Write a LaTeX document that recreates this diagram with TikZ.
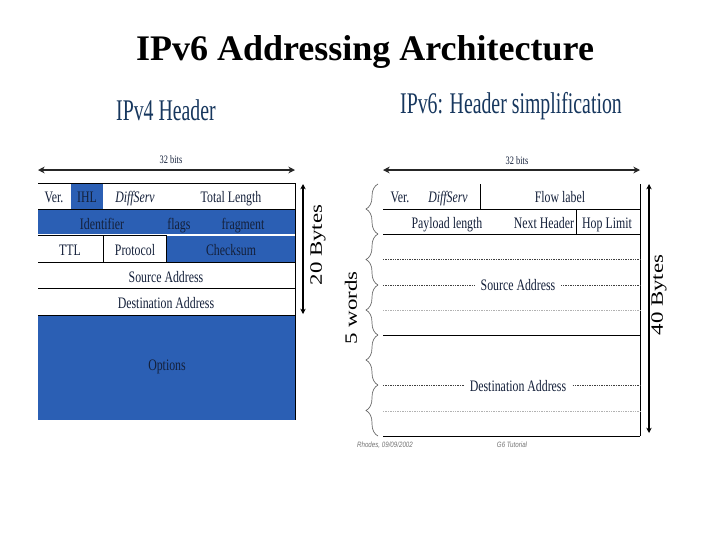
\documentclass[tikz,border=0pt]{standalone}
\usepackage{fontspec}
\usetikzlibrary{arrows.meta,decorations.pathreplacing}
\setmainfont{Liberation Serif}
\newfontfamily\narrowf[FakeStretch=0.74]{Liberation Serif}
\newfontfamily\headf[FakeStretch=0.66]{Liberation Serif}
\newfontfamily\footf[FakeStretch=0.8]{Liberation Sans}
\newfontfamily\widef[FakeStretch=1.32]{Liberation Serif}
\definecolor{hblue}{HTML}{2B5FB4}
\definecolor{navy}{HTML}{17375E}
\definecolor{ink}{HTML}{14203A}
\tikzset{
  cell/.style={font=\narrowf\fontsize{12}{14}\selectfont,text=ink,inner sep=1pt,text height=9.5pt,text depth=1pt},
  icell/.style={cell,font=\narrowf\itshape\fontsize{12}{14}\selectfont},
  heading/.style={font=\headf\fontsize{22.5}{26}\selectfont,text=navy,inner sep=0pt},
  tiny/.style={font=\narrowf\fontsize{8.5}{10}\selectfont,text=ink,inner sep=0pt},
  foot/.style={font=\footf\itshape\fontsize{5.8}{8}\selectfont,text=black!55,inner sep=0pt},
  side/.style={font=\widef\fontsize{13}{15}\selectfont,rotate=90,inner sep=0pt,text=black},
  rule/.style={black,line width=0.6pt},
  dots/.style={black!75,line width=0.45pt,dash pattern=on 1pt off 0.8pt},
  faintdots/.style={black!30,line width=0.45pt,dash pattern=on 1pt off 0.8pt},
  dim/.style={black,line width=0.8pt,{Stealth[length=4pt,width=4pt]}-{Stealth[length=4pt,width=4pt]}},
  thick dim/.style={black!85,line width=1.5pt,{Stealth[length=5pt,width=5pt]}-{Stealth[length=5pt,width=5pt]}},
  bracket/.style={black!60,line width=0.5pt,decorate,decoration={brace,amplitude=9pt}}
}
\begin{document}
\begin{tikzpicture}[x=0.75pt,y=-0.75pt]
\useasboundingbox[fill=white] (0,0) rectangle (720,540);
\node[font=\bfseries\fontsize{27}{31}\selectfont,inner sep=0pt] (title) at (365,52) {IPv6 Addressing Architecture};
\node[heading] (h4) at (166,110) {IPv4 Header};
\node[heading] (h6) at (511,106) {IPv6: Header simplification};
% IPv4 blue areas
\fill[hblue] (71,184) rectangle (103,209);
\fill[hblue] (38,210) rectangle (295,234);
\fill[hblue] (166,236) rectangle (295,262);
\fill[hblue] (38,316) rectangle (295,420);
% IPv4 rules
\coordinate (a0) at (38,183); \coordinate (a1) at (295,183);
\coordinate (b0) at (38,262); \coordinate (b1) at (295,262);
\coordinate (c0) at (38,288); \coordinate (c1) at (295,288);
\coordinate (d0) at (38,315); \coordinate (d1) at (295,315);
\coordinate (r0) at (295,183); \coordinate (r1) at (295,420);
\draw[rule] (a0) -- (a1);
\draw[rule] (38,209) -- (295,209);
\draw[rule] (38,235) -- (166,235);
\draw[white,line width=1pt] (166,235) -- (295,235);
\draw[rule] (b0) -- (b1);
\draw[rule] (c0) -- (c1);
\draw[rule] (d0) -- (d1);
\draw[rule] (r0) -- (r1);
\draw[rule] (103,235) -- (103,262);
\draw[rule] (166,235) -- (166,262);
% IPv4 text
\node[cell] (ver4) at (54,197) {Ver.};
\node[cell] (ihl) at (87,197) {IHL};
\node[icell] (ds4) at (135,197) {DiffServ};
\node[cell] (tl) at (231,197) {Total Length};
\node[cell] (id) at (102,224) {Identifier};
\node[cell] (fl) at (179,224) {flags};
\node[cell] (fr) at (243,224) {fragment};
\node[cell] (ttl) at (70,250) {TTL};
\node[cell] (pr) at (135,250) {Protocol};
\node[cell] (cs) at (231,250) {Checksum};
\node[cell] (sa4) at (166,277) {Source Address};
\node[cell] (da4) at (166,303) {Destination Address};
\node[cell] (op) at (167,365) {Options};
% IPv4 dimensions
\node[tiny] (b4) at (171,160) {32 bits};
\coordinate (w0) at (38,170); \coordinate (w1) at (295,170);
\draw[thick dim] (w0) -- (w1);
\coordinate (t0) at (303,184); \coordinate (t1) at (303,314);
\draw[dim] (t0) -- (t1);
\node[side] (b20) at (318,245) {20 Bytes};
% IPv6 rules
\draw[rule] (383,209) -- (640,209);
\draw[rule] (383,234.5) -- (640,234.5);
\draw[rule] (383,335) -- (640,335);
\draw[rule] (383,436) -- (640,436);
\draw[rule] (640,184) -- (640,436);
\draw[rule] (480,184) -- (480,209);
\draw[rule] (576,209) -- (576,234.5);
\draw[dots] (383,259.5) -- (640,259.5);
\draw[dots] (383,285) -- (640,285);
\draw[faintdots] (383,310) -- (640,310);
\draw[dots] (383,385.5) -- (640,385.5);
\draw[faintdots] (383,411) -- (640,411);
% IPv6 text
\node[cell] (ver6) at (400,197) {Ver.};
\node[icell] (ds6) at (448,197) {DiffServ};
\node[cell] (fll) at (560,197) {Flow label};
\node[cell] (pl) at (447,223) {Payload length};
\node[cell] (nh) at (544,223) {Next Header};
\node[cell] (hl) at (607,223) {Hop Limit};
\node[cell,fill=white,inner xsep=4pt,inner ysep=0pt,text height=7pt,text depth=2pt,yshift=-1.5pt] (sa6) at (518,285) {Source Address};
\node[cell,fill=white,inner xsep=4pt,inner ysep=0pt,text height=7pt,text depth=2pt,yshift=-1.5pt] (da6) at (518,386) {Destination Address};
% IPv6 dimensions
\node[tiny] (b6) at (517,161) {32 bits};
\coordinate (x0) at (383,170); \coordinate (x1) at (640,170);
\draw[thick dim] (x0) -- (x1);
\coordinate (y0) at (649,184); \coordinate (y1) at (649,433);
\draw[dim] (y0) -- (y1);
\node[side] (b40) at (659,295) {40 Bytes};
\node[side] (w5) at (351,308) {5 words};
% braces
\draw[bracket] (378,234) -- (378,184);
\draw[bracket] (378,285) -- (378,234);
\draw[bracket] (378,335) -- (378,285);
\draw[bracket] (378,385) -- (378,335);
\draw[bracket] (378,436) -- (378,385);
% footer
\node[foot] (f1) at (385,445) {Rhodes, 09/09/2002};
\node[foot] (f2) at (512,445) {G6 Tutorial};
\end{tikzpicture}
\end{document}
